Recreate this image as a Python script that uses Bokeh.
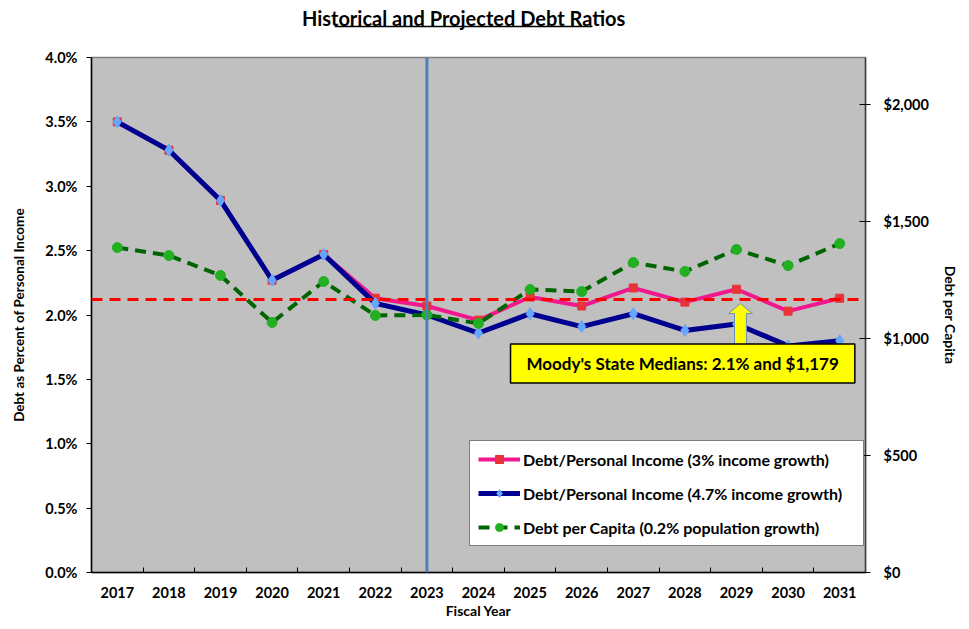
from bokeh.plotting import figure
from bokeh.layouts import column
from bokeh.models import (Range1d, LinearAxis, FixedTicker, Span, Label, Legend, LegendItem)
from bokeh.embed import file_html
from bokeh.resources import INLINE

# ---------------- data ----------------
years = [2017, 2018, 2019, 2020, 2021, 2022, 2023, 2024, 2025, 2026, 2027, 2028, 2029, 2030, 2031]
debt_income_3pct = [3.50, 3.28, 2.89, 2.27, 2.47, 2.13, 2.07, 1.96, 2.14, 2.07, 2.21, 2.10, 2.20, 2.03, 2.13]
debt_income_47pct = [3.50, 3.28, 2.89, 2.27, 2.47, 2.09, 2.00, 1.86, 2.01, 1.91, 2.01, 1.88, 1.93, 1.76, 1.80]
debt_per_capita = [1388, 1354, 1269, 1068, 1243, 1098, 1100, 1064, 1209, 1200, 1324, 1286, 1380, 1311, 1405]
moodys_median_pct = 2.12
moodys_median_capita = 1179
projection_start = 2023
arrow_year = 2029
left_ticks = [0.0, 0.5, 1.0, 1.5, 2.0, 2.5, 3.0, 3.5, 4.0]
right_ticks = [0, 500, 1000, 1500, 2000]
labels = ["Debt/Personal Income (3% income growth)",
          "Debt/Personal Income (4.7% income growth)",
          "Debt per Capita (0.2% population growth)"]
title_text = "Historical and Projected Debt Ratios"
note_text = "Moody's State Medians: 2.1% and $1,179"

FONT = "Lato"
xs = [i + 0.5 for i in range(len(years))]

W, H = 961, 621
HT = 32                      # height of the title strip
BL, BR, BT, BB = 91, 91, 57, 49
FW, FH = W - BL - BR, H - BT - BB
px_x = FW / len(years)
px_y = FH / 4.0

# ---------------- title strip ----------------
head = figure(width=W, height=HT, x_range=Range1d(0, W), y_range=Range1d(HT, 0),
              output_backend="svg", toolbar_location=None, title=None,
              x_axis_type=None, y_axis_type=None,
              min_border=0, min_border_left=0, min_border_right=0,
              min_border_top=0, min_border_bottom=0,
              background_fill_color="white", border_fill_color="white",
              outline_line_color=None)
head.xgrid.visible = False
head.ygrid.visible = False
head.add_layout(Label(x=462, y=17, text=title_text, text_align="center",
                      text_baseline="middle", text_font=FONT, text_font_size="20px",
                      text_font_style="bold", text_color="black"))
head.segment(x0=[302], y0=[26], x1=[622], y1=[26], line_color="black", line_width=1.5)

# ---------------- main chart ----------------
p = figure(width=W, height=H - HT, x_range=Range1d(0, len(years)), y_range=Range1d(0, 4.0),
           output_backend="svg", toolbar_location=None, title=None,
           min_border_left=BL, min_border_right=BR, min_border_top=BT - HT,
           min_border_bottom=BB,
           background_fill_color="#C0C0C0", border_fill_color="white",
           outline_line_color="#7F7F7F", outline_line_width=1.5)
p.extra_y_ranges = {"capita": Range1d(0, 2200)}
p.xgrid.visible = False
p.ygrid.visible = False

# x axis
xa = p.xaxis[0]
xa.ticker = FixedTicker(ticks=xs, minor_ticks=list(range(len(years) + 1)))
xa.major_label_overrides = {x: str(y) for x, y in zip(xs, years)}
xa.major_tick_line_color = None
xa.minor_tick_in = 5
xa.minor_tick_out = 0
xa.minor_tick_line_color = "black"
xa.axis_line_color = "black"
xa.axis_line_width = 1.5
xa.major_label_standoff = 8
xa.major_label_text_font = FONT
xa.major_label_text_font_size = "14.5px"
xa.major_label_text_font_style = "bold"
xa.major_label_text_color = "black"
xa.axis_label = "Fiscal Year"
xa.axis_label_text_font = FONT
xa.axis_label_text_font_size = "14px"
xa.axis_label_text_font_style = "bold"
xa.axis_label_text_color = "black"
xa.axis_label_standoff = 1

# left axis
ya = p.yaxis[0]
ya.ticker = FixedTicker(ticks=left_ticks)
ya.major_label_overrides = {t: f"{t:.1f}%" for t in left_ticks}
ya.major_tick_in = 0
ya.major_tick_out = 5
ya.minor_tick_line_color = None
ya.axis_line_color = "black"
ya.axis_line_width = 1.5
ya.major_label_standoff = 9
ya.major_label_text_font = FONT
ya.major_label_text_font_size = "14.5px"
ya.major_label_text_font_style = "bold"
ya.major_label_text_color = "black"
ya.axis_label = "Debt as Percent of Personal Income"
ya.axis_label_text_font = FONT
ya.axis_label_text_font_size = "13.5px"
ya.axis_label_text_font_style = "bold"
ya.axis_label_text_color = "black"
ya.axis_label_standoff = 15

# right axis
ra = LinearAxis(y_range_name="capita", ticker=FixedTicker(ticks=right_ticks))
ra.major_label_overrides = {t: f"${t:,.0f}" for t in right_ticks}
ra.major_tick_in = 6
ra.major_tick_out = 5
ra.minor_tick_line_color = None
ra.axis_line_color = "#404040"
ra.axis_line_width = 1.5
ra.major_label_standoff = 13
ra.major_label_text_font = FONT
ra.major_label_text_font_size = "14.5px"
ra.major_label_text_font_style = "bold"
ra.major_label_text_color = "black"
ra.axis_label = "Debt per Capita"
ra.axis_label_text_font = FONT
ra.axis_label_text_font_size = "14px"
ra.axis_label_text_font_style = "bold"
ra.axis_label_text_color = "black"
ra.axis_label_standoff = 10
p.add_layout(ra, "right")

# series
pink_line = p.line(xs, debt_income_3pct, line_color="#F0188C", line_width=4)
pink_pts = p.scatter(xs, debt_income_3pct, marker="square", size=8, fill_color="#E8333A",
                     line_color="#E8333A")
blue_line = p.line(xs, debt_income_47pct, line_color="#000090", line_width=5)
blue_pts = p.scatter(xs, debt_income_47pct, marker="diamond", size=12, fill_color="#66A6FF",
                     line_color="#66A6FF")
green_line = p.line(xs, debt_per_capita, y_range_name="capita", line_color="#006400",
                    line_width=4, line_dash="11 7")
green_pts = p.scatter(xs, debt_per_capita, y_range_name="capita", marker="circle", size=10,
                      fill_color="#22B022", line_color="#22B022")

# median line and projection divider
p.add_layout(Span(location=moodys_median_pct, dimension="width", line_color="#FF0000",
                  line_width=3, line_dash="11 7"))
p.add_layout(Span(location=years.index(projection_start) + 0.5, dimension="height",
                  line_color="#4F81BD", line_width=3))

# arrow pointing to the median line
cx = years.index(arrow_year) + 0.5 + 4 / px_x
tip = moodys_median_pct - 4 / px_y
headb = tip - 10 / px_y
base = tip - 46 / px_y
hw = 12 / px_x
sw = 6 / px_x
p.patch([cx, cx + hw, cx + sw, cx + sw, cx - sw, cx - sw, cx - hw],
        [tip, headb, headb, base, base, headb, headb],
        fill_color="#FFFF00", line_color="#6C8EBF", line_width=1)

# note box
p.add_layout(Label(x=(686 - BL) / px_x, y=(BT + FH - 363) / px_y, text=note_text,
                   text_align="center", text_baseline="middle",
                   text_font=FONT, text_font_size="17px", text_font_style="bold",
                   text_color="black", background_fill_color="#FFFF00",
                   background_fill_alpha=1.0, border_line_color="black",
                   border_line_width=1.5, padding=(16, 9)))

# legend
legend = Legend(items=[LegendItem(label=labels[0], renderers=[pink_line, pink_pts]),
                       LegendItem(label=labels[1], renderers=[blue_line, blue_pts]),
                       LegendItem(label=labels[2], renderers=[green_line, green_pts])],
                location=(378, 26), orientation="vertical")
legend.border_line_color = "black"
legend.border_line_width = 1.5
legend.background_fill_color = "white"
legend.background_fill_alpha = 1.0
legend.label_text_font = FONT
legend.label_text_font_size = "16px"
legend.label_text_font_style = "bold"
legend.label_text_color = "black"
legend.glyph_width = 42
legend.glyph_height = 20
legend.label_height = 20
legend.label_standoff = 3
legend.label_width = 332
legend.spacing = 14
legend.padding = 8
legend.margin = 0
p.add_layout(legend)

layout = column(head, p, spacing=0)
open("out.html", "w").write(file_html(layout, INLINE))
